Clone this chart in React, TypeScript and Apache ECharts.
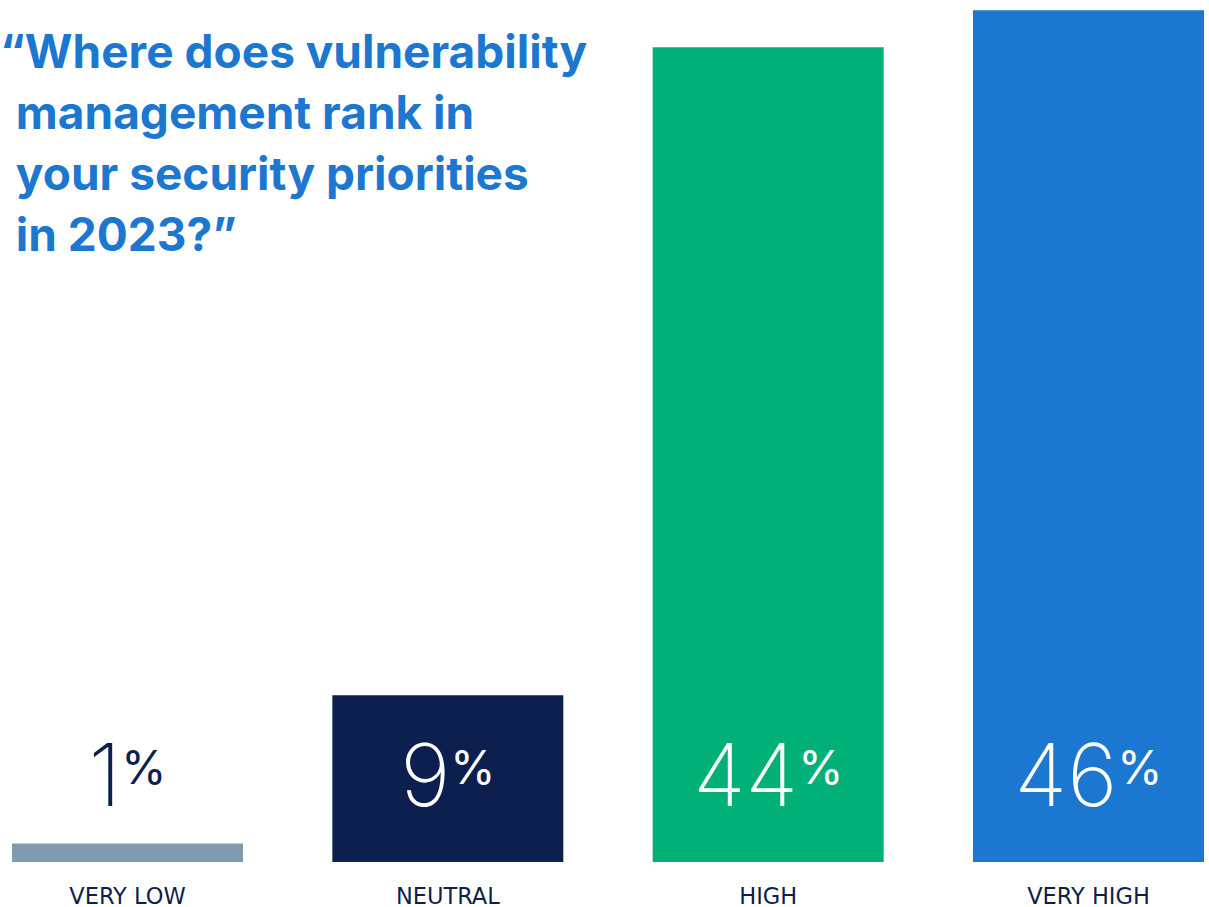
import React, { useEffect, useRef } from "react";
import * as echarts from "echarts";

const categories = ["VERY LOW", "NEUTRAL", "HIGH", "VERY HIGH"];
const values = [1, 9, 44, 46];
const barColors = ["#7e9baf", "#0c1f4e", "#00b077", "#1c77d0"];
const labelColors = ["#0c1f4e", "#ffffff", "#ffffff", "#ffffff"];
const titleLines = [
  "\u201CWhere does vulnerability",
  "management rank in",
  "your security priorities",
  "in 2023?\u201D",
];

const TITLE_FONT = "700 46px Inter";

export default function App() {
  const ref = useRef<HTMLDivElement>(null);
  useEffect(() => {
    if (!ref.current) return;
    const ctx = document.createElement("canvas").getContext("2d");
    let indent = 20;
    if (ctx) {
      ctx.font = TITLE_FONT;
      indent = ctx.measureText("\u201C").width;
    }
    const chart = echarts.init(ref.current, null, { renderer: "svg" });
    const titleText = titleLines
      .map((l, i) => (i === 0 ? `{t|${l}}` : `{s| }{t|${l}}`))
      .join("\n");
    chart.setOption({
      animation: false,
      backgroundColor: "#ffffff",
      title: {
        text: titleText,
        left: 0,
        top: 20,
        padding: 0,
        textStyle: {
          color: "#1c77d0",
          fontFamily: "Inter",
          fontWeight: 700,
          fontSize: 46,
          lineHeight: 61,
          rich: {
            s: {
              fontSize: 10,
              lineHeight: 61,
              width: Math.max(indent - 9, 8),
            },
            t: {
              color: "#1c77d0",
              fontFamily: "Inter",
              fontWeight: 700,
              fontSize: 46,
              lineHeight: 61,
            },
          },
        },
      },
      grid: { left: 127.5, right: 120.5, top: 1, bottom: 45 },
      xAxis: {
        type: "category",
        data: categories,
        boundaryGap: false,
        axisLine: { show: false },
        axisTick: { show: false },
        axisLabel: {
          color: "#0c1f4e",
          fontFamily: "DejaVu Sans",
          fontSize: 22.5,
          margin: 22,
        },
      },
      yAxis: {
        type: "value",
        min: 0,
        max: 46.5,
        show: false,
        splitLine: { show: false },
      },
      series: [
        {
          type: "bar",
          barWidth: 231,
          data: values.map((v, i) => ({
            value: v,
            itemStyle: { color: barColors[i] },
            label: { color: labelColors[i] },
          })),
          label: {
            show: true,
            position: "insideBottom",
            distance: 44,
            formatter: (p: any) => `{n|${p.value}}{p|%}`,
            rich: {
              n: {
                fontFamily: "Inter",
                fontWeight: 200,
                fontSize: 86,
                lineHeight: 86,
              },
              p: {
                fontFamily: "Inter",
                fontWeight: 400,
                fontSize: 46,
                lineHeight: 46,
                verticalAlign: "top",
                padding: [12, 0, 0, 0],
              },
            },
          },
        },
      ],
    });
    return () => chart.dispose();
  }, []);
  return (
    <div
      ref={ref}
      style={{ position: "fixed", left: 0, top: 0, width: 1209, height: 907 }}
    />
  );
}
